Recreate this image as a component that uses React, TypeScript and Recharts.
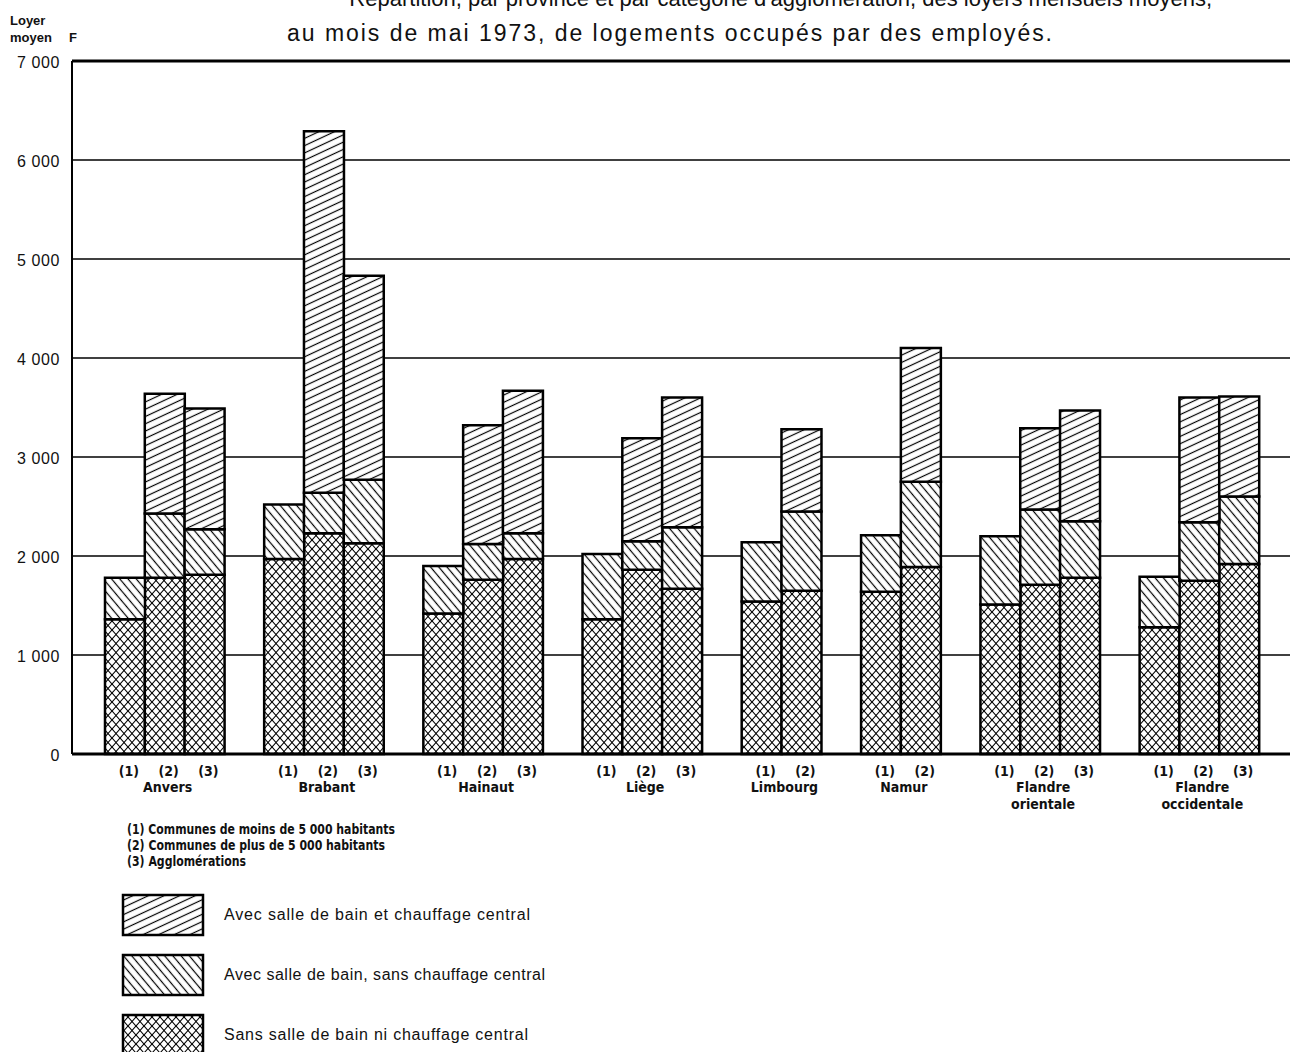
import React from 'react';
import { BarChart, Bar, XAxis, YAxis, CartesianGrid, ReferenceLine } from 'recharts';

// Loyer mensuel moyen (F), mai 1973, logements occupés par des employés.
// Une liste par province, dans l'ordre (1), (2), (3).
const provinces = ['Anvers', 'Brabant', 'Hainaut', 'Liège', 'Limbourg', 'Namur', 'Flandre orientale', 'Flandre occidentale'];
const provinceLines = [['Anvers'], ['Brabant'], ['Hainaut'], ['Liège'], ['Limbourg'], ['Namur'], ['Flandre', 'orientale'], ['Flandre', 'occidentale']];
const areaCodes = ['(1)', '(2)', '(3)'];

const sansBain = [
  [1360, 1780, 1810],
  [1970, 2230, 2130],
  [1420, 1760, 1970],
  [1360, 1860, 1670],
  [1540, 1650],
  [1640, 1890],
  [1510, 1710, 1780],
  [1280, 1750, 1920],
];
const bainSansChauffage = [
  [1780, 2430, 2270],
  [2520, 2640, 2770],
  [1900, 2120, 2230],
  [2020, 2150, 2290],
  [2140, 2450],
  [2210, 2750],
  [2200, 2470, 2350],
  [1790, 2340, 2600],
];
const bainEtChauffage: (number | null)[][] = [
  [null, 3640, 3490],
  [null, 6290, 4830],
  [null, 3320, 3670],
  [null, 3190, 3600],
  [null, 3280],
  [null, 4100],
  [null, 3290, 3470],
  [null, 3600, 3610],
];

const yTicks = [0, 1000, 2000, 3000, 4000, 5000, 6000, 7000];
const yTickLabels = ['0', '1 000', '2 000', '3 000', '4 000', '5 000', '6 000', '7 000'];

const areaNotes = [
  '(1)  Communes de moins de 5 000 habitants',
  '(2)  Communes de plus de 5 000 habitants',
  '(3)  Agglomérations',
];
const seriesNames = [
  'Avec salle de bain et chauffage central',
  'Avec salle de bain, sans chauffage central',
  'Sans salle de bain ni chauffage central',
];

const condensed = "'Liberation Sans Narrow', 'DejaVu Sans Condensed', 'Liberation Sans', Arial, sans-serif";
const sans = "'Liberation Sans', Arial, sans-serif";

type Row = {
  key: string;
  area?: string;
  label?: string[];
  shift?: boolean;
  cross?: number | null;
  back?: number | null;
  fwd?: number | null;
};

// une colonne vide entre deux provinces, chaque barre = une catégorie
const rows: Row[] = [];
provinces.forEach((prov, i) => {
  if (i > 0) rows.push({ key: `gap-${i}` });
  const n = sansBain[i].length;
  sansBain[i].forEach((low, j) => {
    const mid = bainSansChauffage[i][j];
    const top = bainEtChauffage[i][j];
    const labelAt = n === 3 ? 1 : 0;
    rows.push({
      key: `${prov}-${j + 1}`,
      area: areaCodes[j],
      label: j === labelAt ? provinceLines[i] : undefined,
      shift: n === 2 && j === 0,
      cross: low,
      back: mid - low,
      fwd: top == null ? null : top - mid,
    });
  });
});
const rowByKey = new Map(rows.map((r) => [r.key, r]));

function AreaTick(props: any) {
  const { x, y, payload } = props;
  const row = rowByKey.get(payload.value);
  if (!row || !row.area) return <g />;
  const half = typeof payload.offset === 'number' ? payload.offset : 20;
  const lx = x + (row.shift ? half : 0) + 3;
  return (
    <g>
      <text x={x + 4} y={y + 14} textAnchor="middle" fontFamily={condensed} fontWeight="bold" fontSize={14} fill="#111">
        {row.area}
      </text>
      {row.label?.map((line, k) => (
        <text key={k} x={lx} y={y + 30 + k * 17} textAnchor="middle" fontFamily={condensed} fontWeight="bold" fontSize={14} fill="#111">
          {line}
        </text>
      ))}
    </g>
  );
}

function RentTick(props: any) {
  const { x, y, payload } = props;
  const i = yTicks.indexOf(payload.value);
  return (
    <text x={x} y={y + 7} textAnchor="end" fontFamily={sans} fontSize={16} letterSpacing={0.6} fill="#111">
      {yTickLabels[i]}
    </text>
  );
}

function Patterns() {
  return (
    <defs>
      <pattern id="hatchFwd" patternUnits="userSpaceOnUse" width={10} height={6.6} patternTransform="rotate(-25)">
        <rect width={10} height={6.6} fill="#fff" />
        <line x1={0} y1={3.3} x2={10} y2={3.3} stroke="#000" strokeWidth={1.2} />
      </pattern>
      <pattern id="hatchBack" patternUnits="userSpaceOnUse" width={10} height={6.3} patternTransform="rotate(50)">
        <rect width={10} height={6.3} fill="#fff" />
        <line x1={0} y1={3.15} x2={10} y2={3.15} stroke="#000" strokeWidth={1.2} />
      </pattern>
      <pattern id="hatchCross" patternUnits="userSpaceOnUse" width={8} height={9}>
        <rect width={8} height={9} fill="#fff" />
        <line x1={0} y1={0} x2={8} y2={9} stroke="#000" strokeWidth={1.1} />
        <line x1={8} y1={0} x2={0} y2={9} stroke="#000" strokeWidth={1.1} />
      </pattern>
    </defs>
  );
}

const legendFills = ['url(#hatchFwd)', 'url(#hatchBack)', 'url(#hatchCross)'];
const legendWidths = [306, 321, 304];
const noteWidths = [268, 258, 119];

export default function App() {
  return (
    <div style={{ position: 'absolute', left: 0, top: 0, width: 1290, height: 1052, overflow: 'hidden', background: '#fff' }}>
      <BarChart
        width={1290}
        height={1052}
        data={rows}
        margin={{ top: 61, right: 0, left: 0, bottom: 238 }}
        barCategoryGap={0}
        barGap={0}
      >
        <Patterns />
        <CartesianGrid horizontal vertical={false} stroke="#000" strokeWidth={1.4} />
        <XAxis
          dataKey="key"
          type="category"
          interval={0}
          height={60}
          padding={{ left: 33, right: 31 }}
          axisLine={{ stroke: '#000', strokeWidth: 3 }}
          tickLine={false}
          tick={<AreaTick />}
        />
        <YAxis
          width={72}
          domain={[0, 7000]}
          ticks={yTicks}
          interval={0}
          axisLine={{ stroke: '#000', strokeWidth: 2 }}
          tickLine={false}
          tickMargin={6}
          tick={<RentTick />}
        />
        <ReferenceLine y={7000} stroke="#000" strokeWidth={3} />
        <Bar dataKey="cross" stackId="r" fill="url(#hatchCross)" stroke="#000" strokeWidth={2.5} isAnimationActive={false} />
        <Bar dataKey="back" stackId="r" fill="url(#hatchBack)" stroke="#000" strokeWidth={2.5} isAnimationActive={false} />
        <Bar dataKey="fwd" stackId="r" fill="url(#hatchFwd)" stroke="#000" strokeWidth={2.5} isAnimationActive={false} />
      </BarChart>

      <svg width={1290} height={1052} style={{ position: 'absolute', left: 0, top: 0, pointerEvents: 'none' }}>
        <text x={1212} y={6} textAnchor="end" fontFamily={sans} fontSize={22} fill="#111">
          Répartition, par province et par catégorie d'agglomération, des loyers mensuels moyens,
        </text>
        <text x={287} y={41} fontFamily={sans} fontSize={23} fill="#111" textLength={765} lengthAdjust="spacing">
          au mois de mai 1973, de logements occupés par des employés.
        </text>

        <text x={10} y={25} fontFamily={sans} fontWeight="bold" fontSize={13} fill="#111">Loyer</text>
        <text x={10} y={42} fontFamily={sans} fontWeight="bold" fontSize={13} fill="#111">moyen</text>
        <text x={69} y={42} fontFamily={sans} fontWeight="bold" fontSize={13} fill="#111">F</text>

        {areaNotes.map((note, i) => (
          <text
            key={note}
            x={127}
            y={834 + i * 16}
            fontFamily={condensed}
            fontWeight="bold"
            fontSize={14}
            fill="#111"
            textLength={noteWidths[i]}
            lengthAdjust="spacingAndGlyphs"
          >
            {note}
          </text>
        ))}

        {seriesNames.map((name, i) => (
          <g key={name}>
            <rect x={123} y={895 + i * 60} width={80} height={40} fill={legendFills[i]} stroke="#000" strokeWidth={2.5} />
            <text
              x={224}
              y={920 + i * 60}
              fontFamily={sans}
              fontSize={16}
              fill="#111"
              textLength={legendWidths[i]}
              lengthAdjust="spacing"
            >
              {name}
            </text>
          </g>
        ))}
      </svg>
    </div>
  );
}
